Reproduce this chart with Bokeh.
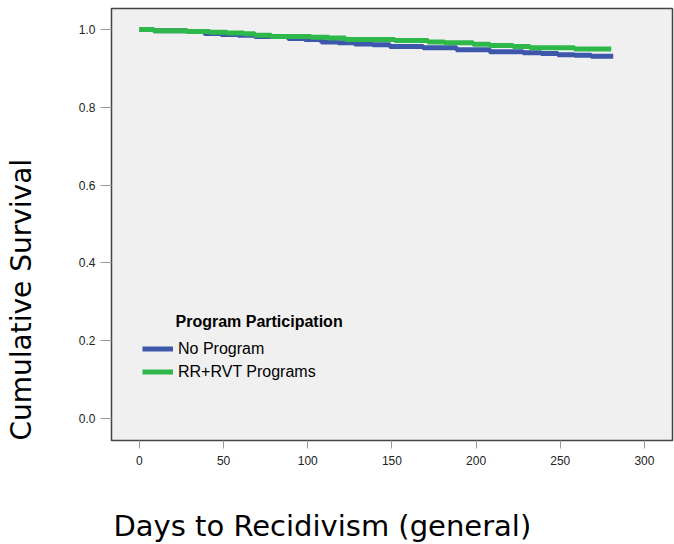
from bokeh.plotting import figure
from bokeh.models import Label, Legend, LegendItem, FixedTicker, NumeralTickFormatter, Title
from bokeh.embed import file_html
from bokeh.resources import INLINE

# Kaplan-Meier style survival steps
days_none = [0, 8.5, 28.3, 38.6, 48.5, 58.6, 68.5, 88.3, 98.2, 108.1, 118, 127.9,
             138.6, 148.8, 168.5, 188.4, 208.2, 228, 238.7, 248.6, 258.5, 268.4, 281.5]
surv_none = [1.000, 0.997, 0.995, 0.990, 0.987, 0.985, 0.982, 0.977, 0.974, 0.968, 0.966, 0.963,
             0.961, 0.956, 0.953, 0.948, 0.943, 0.940, 0.938, 0.935, 0.934, 0.931, 0.931]

days_prog = [0, 8.5, 28.3, 41.8, 52, 62, 68.5, 78.4, 102, 112.5, 122.4, 151.7,
             171.5, 181.2, 198.3, 208.2, 222, 232, 258.5, 280.3]
surv_prog = [1.000, 0.997, 0.995, 0.993, 0.991, 0.989, 0.985, 0.982, 0.980, 0.978, 0.974, 0.972,
             0.968, 0.966, 0.962, 0.959, 0.956, 0.953, 0.950, 0.950]

x_ticks = [0, 50, 100, 150, 200, 250, 300]
y_ticks = [0.0, 0.2, 0.4, 0.6, 0.8, 1.0]

p = figure(width=674, height=544, output_backend="svg", toolbar_location=None,
           x_range=(-16.6, 316.7), y_range=(-0.0566, 1.054),
           min_border=0, min_border_left=111, min_border_bottom=104, min_border_right=2,
           min_border_top=8)
p.background_fill_color = "#f0f0f0"
p.border_fill_color = "white"
p.outline_line_color = "#444444"
p.outline_line_width = 1.5
p.grid.visible = False

blue = p.step(days_none, surv_none, mode="after", line_color="#3d58aa", line_width=5)
green = p.step(days_prog, surv_prog, mode="after", line_color="#2fb84a", line_width=5)

for ax in (p.xaxis[0], p.yaxis[0]):
    ax.axis_line_color = None
    ax.major_tick_line_color = "#999999"
    ax.minor_tick_line_color = None
    ax.major_tick_in = 0
    ax.major_label_text_font = "Liberation Sans"
    ax.major_label_text_font_size = "12px"
    ax.major_label_text_color = "#222222"
    # blank axis label only used as a spacer before the real titles
    ax.axis_label = " "
    ax.axis_label_text_font_size = "10px"

p.xaxis.ticker = FixedTicker(ticks=x_ticks)
p.xaxis.major_tick_out = 8
p.xaxis.major_label_standoff = 7
p.xaxis.axis_label_standoff = 23
p.yaxis.ticker = FixedTicker(ticks=y_ticks)
p.yaxis.formatter = NumeralTickFormatter(format="0.0")
p.yaxis.major_tick_out = 11
p.yaxis.major_label_standoff = 5
p.yaxis.axis_label_standoff = 22

p.add_layout(Title(text="Cumulative Survival", align="left", offset=0, standoff=4,
                   text_font="DejaVu Sans", text_font_size="28px",
                   text_font_style="normal", text_color="black"), "left")
p.add_layout(Title(text="Days to Recidivism (general)", align="left", offset=2, standoff=4,
                   text_font="DejaVu Sans", text_font_size="29px",
                   text_font_style="normal", text_color="black"), "below")
p.add_layout(Label(x=64, y=119, x_units="screen", y_units="screen",
                   text="Program Participation", text_font_style="bold",
                   text_align="left", text_baseline="middle",
                   text_font="Liberation Sans", text_font_size="16px", text_color="black"))

legend = Legend(items=[LegendItem(label="No Program", renderers=[blue]),
                       LegendItem(label="RR+RVT Programs", renderers=[green])],
                location=(31, 57), padding=0, margin=0, spacing=0,
                glyph_width=31, glyph_height=23, label_height=23, label_standoff=5,
                label_text_font="Liberation Sans", label_text_font_size="16px",
                label_text_color="black",
                border_line_color=None, background_fill_alpha=0)
p.add_layout(legend)

open("out.html", "w").write(file_html(p, INLINE))
